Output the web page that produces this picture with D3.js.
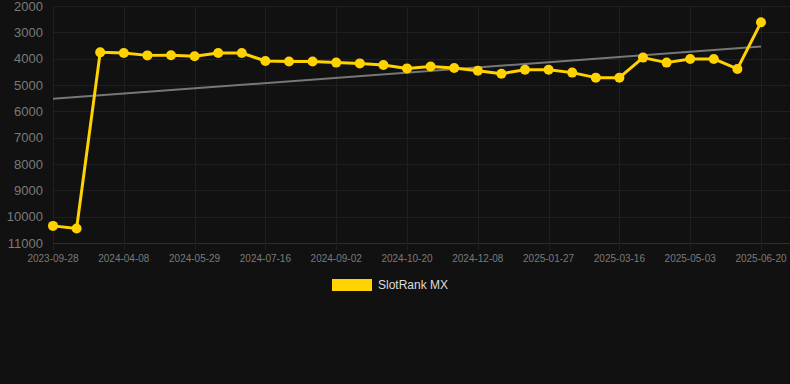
<!DOCTYPE html>
<html>
<head>
<meta charset="utf-8">
<script src="https://cdn.jsdelivr.net/npm/d3@7"></script>
<style>
    html, body { margin: 0; padding: 0; background: #111111; }
    svg { display: block; font-family: "Liberation Sans", Arial, sans-serif; }
</style>
</head>
<body>
<svg id="chart" width="790" height="384"></svg>
<script>
    'use strict';

    // category dates (one per point, every 3rd one labelled)
    var dates = [
        '2023-09-28', '2023-10-08', '2024-03-22', '2024-04-08', '2024-04-25', '2024-05-12',
        '2024-05-29', '2024-06-14', '2024-06-30', '2024-07-16', '2024-08-01', '2024-08-17',
        '2024-09-02', '2024-09-18', '2024-10-04', '2024-10-20', '2024-11-05', '2024-11-22',
        '2024-12-08', '2024-12-24', '2025-01-10', '2025-01-27', '2025-02-12', '2025-02-28',
        '2025-03-16', '2025-04-01', '2025-04-17', '2025-05-03', '2025-05-19', '2025-06-04',
        '2025-06-20'
    ];
    var rankValues = [
        10350, 10450, 3760, 3785, 3875, 3870, 3910, 3785, 3785, 4090, 4110, 4110, 4150, 4180,
        4240, 4370, 4300, 4355, 4455, 4570, 4420, 4420, 4530, 4720, 4720, 3960, 4150, 4010,
        4010, 4390, 2620
    ];
    var yTicks = [2000, 3000, 4000, 5000, 6000, 7000, 8000, 9000, 10000, 11000];
    var seriesName = 'SlotRank MX';

    var COLORS = {
        line: '#ffd200',
        grid: '#1f1f1f',
        axis: '#2e2e2e',
        tick: '#7a7a7a',
        trend: '#777777',
        legendText: '#dddddd'
    };

    var svg = d3.select('#chart');
    var width = 790;
    var plot = { left: 53, right: 761, top: 6, bottom: 243 };

    var x = d3.scalePoint()
        .domain(d3.range(dates.length))
        .range([plot.left, plot.right]);

    var y = d3.scaleLinear()
        .domain([2000, 11000])
        .range([plot.top, plot.bottom]);

    var gridGroup = svg.append('g');
    var trendGroup = svg.append('g');
    var lineGroup = svg.append('g');
    var axisGroup = svg.append('g');

    function renderGrid() {
        gridGroup.selectAll('line.h').data(yTicks).enter()
            .append('line')
            .attr('class', 'h')
            .attr('x1', plot.left)
            .attr('x2', width)
            .attr('y1', function (d) { return Math.round(y(d)) + 0.5; })
            .attr('y2', function (d) { return Math.round(y(d)) + 0.5; })
            .attr('stroke', function (d) { return d === 11000 ? COLORS.axis : COLORS.grid; })
            .attr('stroke-width', 1);

        var labelled = d3.range(0, dates.length, 3);
        gridGroup.selectAll('line.v').data(labelled).enter()
            .append('line')
            .attr('class', 'v')
            .attr('x1', function (d) { return Math.round(x(d)) + 0.5; })
            .attr('x2', function (d) { return Math.round(x(d)) + 0.5; })
            .attr('y1', plot.top)
            .attr('y2', plot.bottom + 7)
            .attr('stroke', COLORS.grid)
            .attr('stroke-width', 1);
    }

    function renderAxes() {
        axisGroup.selectAll('text.y').data(yTicks).enter()
            .append('text')
            .attr('class', 'y')
            .attr('x', 43)
            .attr('y', function (d) { return y(d) + 4.5; })
            .attr('text-anchor', 'end')
            .attr('font-size', 13)
            .attr('fill', COLORS.tick)
            .text(function (d) { return d; });

        axisGroup.selectAll('text.x').data(d3.range(0, dates.length, 3)).enter()
            .append('text')
            .attr('class', 'x')
            .attr('x', function (d) { return x(d); })
            .attr('y', 262)
            .attr('text-anchor', 'middle')
            .attr('font-size', 10)
            .attr('fill', COLORS.tick)
            .text(function (d) { return dates[d]; });
    }

    function renderTrend() {
        // least squares fit over point index
        var idx = d3.range(rankValues.length);
        var mx = d3.mean(idx);
        var my = d3.mean(rankValues);
        var num = d3.sum(idx, function (i) { return (i - mx) * (rankValues[i] - my); });
        var den = d3.sum(idx, function (i) { return (i - mx) * (i - mx); });
        var slope = num / den;
        var first = 0;
        var last = rankValues.length - 1;
        trendGroup.append('line')
            .attr('x1', x(first))
            .attr('y1', y(my + slope * (first - mx)))
            .attr('x2', x(last))
            .attr('y2', y(my + slope * (last - mx)))
            .attr('stroke', COLORS.trend)
            .attr('stroke-width', 2);
    }

    function renderSeries() {
        var line = d3.line()
            .x(function (d, i) { return x(i); })
            .y(function (d) { return y(d); });

        lineGroup.append('path')
            .datum(rankValues)
            .attr('d', line)
            .attr('fill', 'none')
            .attr('stroke', COLORS.line)
            .attr('stroke-width', 3)
            .attr('stroke-linejoin', 'round');

        lineGroup.selectAll('circle').data(rankValues).enter()
            .append('circle')
            .attr('cx', function (d, i) { return x(i); })
            .attr('cy', function (d) { return y(d); })
            .attr('r', 5)
            .attr('fill', COLORS.line);
    }

    function renderLegend() {
        var legend = svg.append('g');
        legend.append('rect')
            .attr('x', 332)
            .attr('y', 279)
            .attr('width', 40)
            .attr('height', 12)
            .attr('fill', COLORS.line);
        legend.append('text')
            .attr('x', 378)
            .attr('y', 289)
            .attr('font-size', 12)
            .attr('fill', COLORS.legendText)
            .text(seriesName);
    }

    renderGrid();
    renderTrend();
    renderSeries();
    renderAxes();
    renderLegend();
</script>
</body>
</html>
